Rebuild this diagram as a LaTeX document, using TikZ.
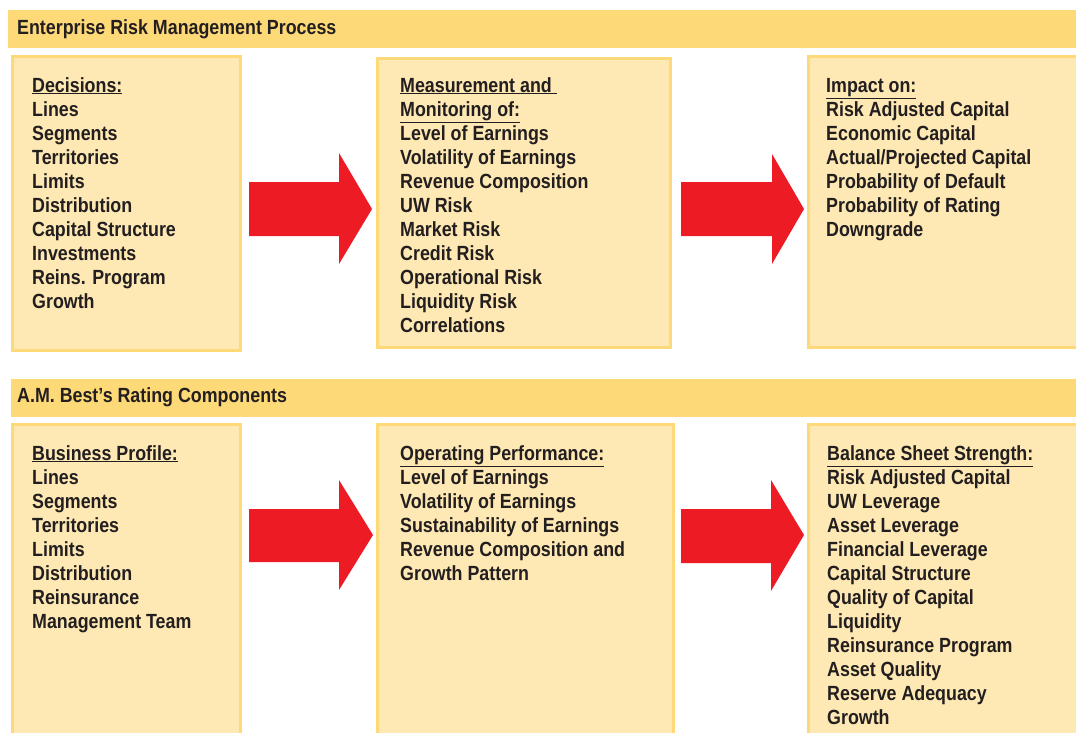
\documentclass[tikz,border=0pt]{standalone}
\usepackage{fontspec}
\setmainfont{Liberation Sans}[FakeStretch=0.87]
\definecolor{hdrY}{HTML}{FDD977}
\definecolor{boxY}{HTML}{FEE8B3}
\definecolor{edgeY}{HTML}{FDD97A}
\definecolor{arrRed}{HTML}{ED1C24}
\definecolor{ink}{HTML}{231F20}
\tikzset{
  hdr/.style={fill=hdrY, draw=none, anchor=north west, inner sep=0pt, outer sep=0pt},
  hdrtxt/.style={anchor=west, inner sep=0pt, text=ink, font=\fontsize{20.5}{24}\selectfont\bfseries},
  panel/.style={fill=boxY, draw=edgeY, line width=3pt, anchor=north west, inner sep=0pt},
  body/.style={anchor=north west, inner sep=0pt, align=left, text=ink, font=\fontsize{20.5}{24}\selectfont\bfseries},
  blockarrow/.style={fill=arrRed, draw=none}
}
\begin{document}
\begin{tikzpicture}[x=1pt,y=-1pt]
\useasboundingbox (0,0) rectangle (1076,733);
\begin{scope}
\clip (0,0) rectangle (1076,733);
% headers
\node[hdr, minimum width=1070pt, minimum height=38pt] (h1) at (8,10) {};
\node[hdrtxt] (h1t) at (17,29) {Enterprise Risk Management Process};
\node[hdr, minimum width=1067pt, minimum height=38pt] (h2) at (11,379) {};
\node[hdrtxt] (h2t) at (17,397) {A.M. Best’s Rating Components};
% top row panels
\node[panel, minimum width=228pt, minimum height=294pt] (b1) at (11,55) {};
\node[panel, minimum width=293pt, minimum height=289pt] (b2) at (376,57) {};
\node[panel, minimum width=280pt, minimum height=291pt] (b3) at (807,55) {};
% bottom row panels
\node[panel, minimum width=228pt, minimum height=330pt] (c1) at (11,423) {};
\node[panel, minimum width=296pt, minimum height=330pt] (c2) at (376,423) {};
\node[panel, minimum width=280pt, minimum height=330pt] (c3) at (807,423) {};
% arrows
\fill[blockarrow] (249,182) -- (339,182) -- (339,153) -- (372,209) -- (339,264) -- (339,236) -- (249,236) -- cycle;
\fill[blockarrow] (681,182) -- (772,182) -- (772,154) -- (804,209) -- (772,264) -- (772,236) -- (681,236) -- cycle;
\fill[blockarrow] (249,509) -- (339,509) -- (339,480) -- (373,535) -- (339,590) -- (339,562) -- (249,562) -- cycle;
\fill[blockarrow] (681,509) -- (771,509) -- (771,480) -- (804,535) -- (771,591) -- (771,563) -- (681,563) -- cycle;
% texts top
\node[body] (t1) at (32,77) {\underline{Decisions:}\\Lines\\Segments\\Territories\\Limits\\Distribution\\Capital Structure\\Investments\\Reins. Program\\Growth};
\node[body] (t2) at (400,77) {\underline{Measurement and~}\\\underline{Monitoring of:}\\Level of Earnings\\Volatility of Earnings\\Revenue Composition\\UW Risk\\Market Risk\\Credit Risk\\Operational Risk\\Liquidity Risk\\Correlations};
\node[body] (t3) at (826,78) {\underline{Impact on:}\\Risk Adjusted Capital\\Economic Capital\\Actual/Projected Capital\\Probability of Default\\Probability of Rating\\Downgrade};
% texts bottom
\node[body] (s1) at (32,445) {\underline{Business Profile:}\\Lines\\Segments\\Territories\\Limits\\Distribution\\Reinsurance\\Management Team};
\node[body] (s2) at (400,445) {\underline{Operating Performance:}\\Level of Earnings\\Volatility of Earnings\\Sustainability of Earnings\\Revenue Composition and\\Growth Pattern};
\node[body] (s3) at (827,445) {\underline{Balance Sheet Strength:}\\Risk Adjusted Capital\\UW Leverage\\Asset Leverage\\Financial Leverage\\Capital Structure\\Quality of Capital\\Liquidity\\Reinsurance Program\\Asset Quality\\Reserve Adequacy\\Growth};
\end{scope}
\end{tikzpicture}
\end{document}
